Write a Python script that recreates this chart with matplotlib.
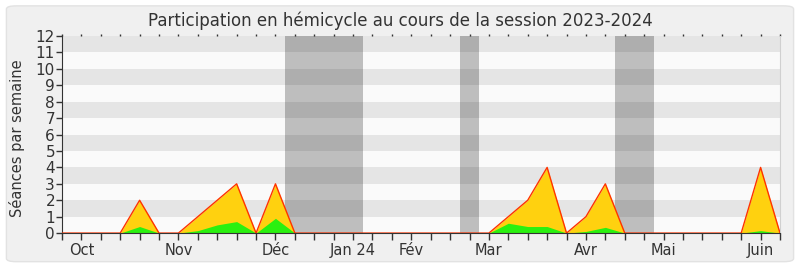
import matplotlib
matplotlib.use("Agg")
import matplotlib.pyplot as plt
from matplotlib.patches import FancyBboxPatch

# Weekly counts over the parliamentary session (week index 0 = start of October)
weeks = list(range(38))
seances_presence = [0, 0, 0, 0, 2, 0, 0, 1, 2, 3, 0, 3, 0, 0, 0, 0, 0, 0, 0,
                    0, 0, 0, 0, 1, 2, 4, 0, 1, 3, 0, 0, 0, 0, 0, 0, 0, 4, 0]
seances_interventions = [0, 0, 0, 0, 0.4, 0, 0, 0.15, 0.5, 0.7, 0, 0.9, 0, 0, 0, 0, 0, 0, 0,
                         0, 0, 0, 0, 0.6, 0.4, 0.4, 0, 0.1, 0.35, 0, 0, 0, 0, 0, 0, 0, 0.15, 0]

month_labels = ["Oct", "Nov", "Déc", "Jan 24", "Fév", "Mar", "Avr", "Mai", "Juin"]
month_weeks = [1, 6, 11, 15, 18, 22, 27, 31, 36]

# Parliamentary breaks (start, end) in weeks
vacances = [(11.5, 15.5), (20.5, 21.5), (28.5, 30.5)]

TXT = "#333333"

fig = plt.figure(figsize=(8, 2.67), dpi=100)
fig.patch.set_facecolor("white")
fig.patches.append(FancyBboxPatch((0.008, 0.02), 0.984, 0.958,
                                  boxstyle="round,pad=0,rounding_size=0.012",
                                  transform=fig.transFigure, facecolor="#f0f0f0",
                                  edgecolor="#e2e2e2", linewidth=1, zorder=-10))

ax = fig.add_axes([0.0775, 0.127, 0.8975, 0.738])
ax.set_facecolor("#fafafa")
ax.set_xlim(0, 37)
ax.set_ylim(0, 12)

# alternating horizontal stripes
for y0 in range(1, 12, 2):
    ax.axhspan(y0, y0 + 1, color="#e5e5e5", lw=0, zorder=0)

for a, b in vacances:
    ax.axvspan(a, b, color="black", alpha=0.24, lw=0, zorder=1)

ax.fill_between(weeks, seances_presence, color="#ffd10f", lw=0, zorder=2)
ax.fill_between(weeks, seances_interventions, color="#2af010", lw=0, zorder=3)
ax.plot(weeks, seances_presence, color="#ff3300", lw=1, zorder=4)

ax.set_yticks(range(13))
ax.set_yticklabels([str(i) for i in range(13)], fontsize=11, color=TXT)
ax.set_xticks(weeks, minor=True)
ax.set_xticks(month_weeks)
ax.set_xticklabels(month_labels, fontsize=10.5, color=TXT)
ax.tick_params(axis="x", which="both", bottom=True, length=5, width=1, color=TXT, pad=2)
ax.tick_params(axis="y", length=4, width=1, color=TXT, pad=1)

# tiny week marks along the top edge
top = ax.secondary_xaxis("top")
top.set_xticks(weeks)
top.tick_params(length=1.5, width=1, color=TXT, labeltop=False)
top.spines["top"].set_visible(False)

ax.spines["top"].set_visible(False)
ax.spines["right"].set_color("#d0d0d0")
ax.spines["left"].set_color(TXT)
ax.spines["bottom"].set_color(TXT)
ax.spines["bottom"].set_zorder(5)

ax.set_ylabel("Séances par semaine", fontsize=10.5, color=TXT)
ax.yaxis.set_label_coords(-0.052, 0.48)
fig.text(0.5, 0.922, "Participation en hémicycle au cours de la session 2023-2024",
         ha="center", va="center", fontsize=12, color=TXT)

fig.savefig("out.png", dpi=100, facecolor=fig.get_facecolor())
